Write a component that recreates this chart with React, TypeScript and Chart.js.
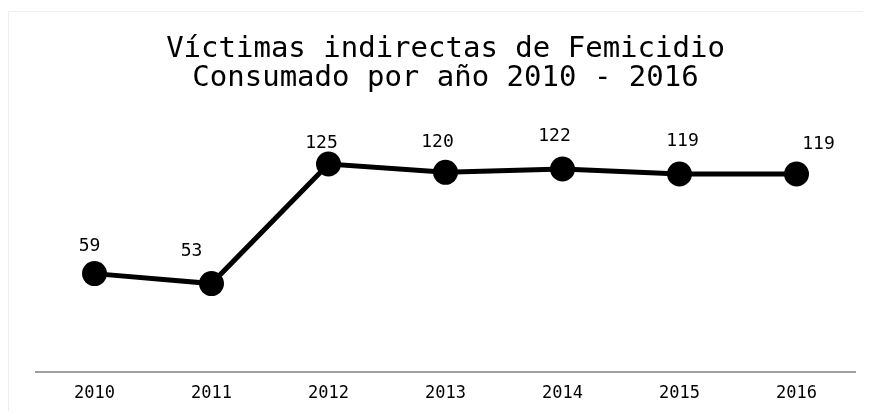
import React, { useEffect, useRef } from "react";
import { Chart, registerables } from "chart.js";

Chart.register(...registerables);

const years = ["2010", "2011", "2012", "2013", "2014", "2015", "2016"];
const victims = [59, 53, 125, 120, 122, 119, 119];
const titleLines = ["Víctimas indirectas de Femicidio", "Consumado por año 2010 - 2016"];

// label nudges (style only), relative to each point
const labelNudgeX = [-5, -20, -7, -8, -8, 3, 22];
const labelNudgeY = [-27, -32, -21, -30, -33, -33, -30];

const FONT = "'DejaVu Sans Mono', monospace";

const labelPlugin = {
  id: "pointLabels",
  afterDatasetsDraw(chart: any) {
    const ctx = chart.ctx;
    const meta = chart.getDatasetMeta(0);
    ctx.save();
    ctx.font = `18px ${FONT}`;
    ctx.fillStyle = "#000";
    ctx.textAlign = "center";
    ctx.textBaseline = "middle";
    meta.data.forEach((pt: any, i: number) => {
      ctx.fillText(String(victims[i]), pt.x + labelNudgeX[i], pt.y + labelNudgeY[i]);
    });
    ctx.restore();
  },
};

const borderPlugin = {
  id: "frame",
  beforeDraw(chart: any) {
    const ctx = chart.ctx;
    ctx.save();
    ctx.strokeStyle = "#efefef";
    ctx.lineWidth = 1;
    ctx.beginPath();
    ctx.moveTo(0.5, chart.height);
    ctx.lineTo(0.5, 3.5);
    ctx.lineTo(chart.width, 3.5);
    ctx.stroke();
    ctx.restore();
  },
};

export default function App() {
  const ref = useRef<HTMLCanvasElement>(null);
  useEffect(() => {
    if (!ref.current) return;
    const chart = new Chart(ref.current, {
      type: "line",
      data: {
        labels: years,
        datasets: [
          {
            data: victims,
            borderColor: "#000",
            backgroundColor: "#000",
            borderWidth: 5,
            pointRadius: 10,
            pointHoverRadius: 10,
            pointBackgroundColor: "#000",
            pointBorderColor: "#000",
            tension: 0,
            clip: false as any,
          },
        ],
      },
      options: {
        animation: false,
        responsive: true,
        maintainAspectRatio: false,
        layout: { autoPadding: false, padding: { left: 28, right: 8, top: 0, bottom: -5 } },
        plugins: {
          legend: { display: false },
          tooltip: { enabled: false },
          title: {
            display: true,
            text: titleLines,
            color: "#000",
            font: { family: FONT, size: 29, weight: "normal", lineHeight: 1.0 },
            padding: { top: 27, bottom: 29.5 },
          },
        },
        scales: {
          x: {
            offset: true,
            grid: { display: false, drawTicks: false },
            border: { display: true, color: "#a0a0a0", width: 2 },
            ticks: { color: "#000", font: { family: FONT, size: 17 }, padding: 12 },
          },
          y: {
            display: false,
            min: 0,
            max: 150,
          },
        },
      },
      plugins: [labelPlugin, borderPlugin],
    });
    return () => chart.destroy();
  }, []);
  return (
    <div style={{ width: 855, height: 403, position: "relative" }}>
      <canvas ref={ref} />
    </div>
  );
}
